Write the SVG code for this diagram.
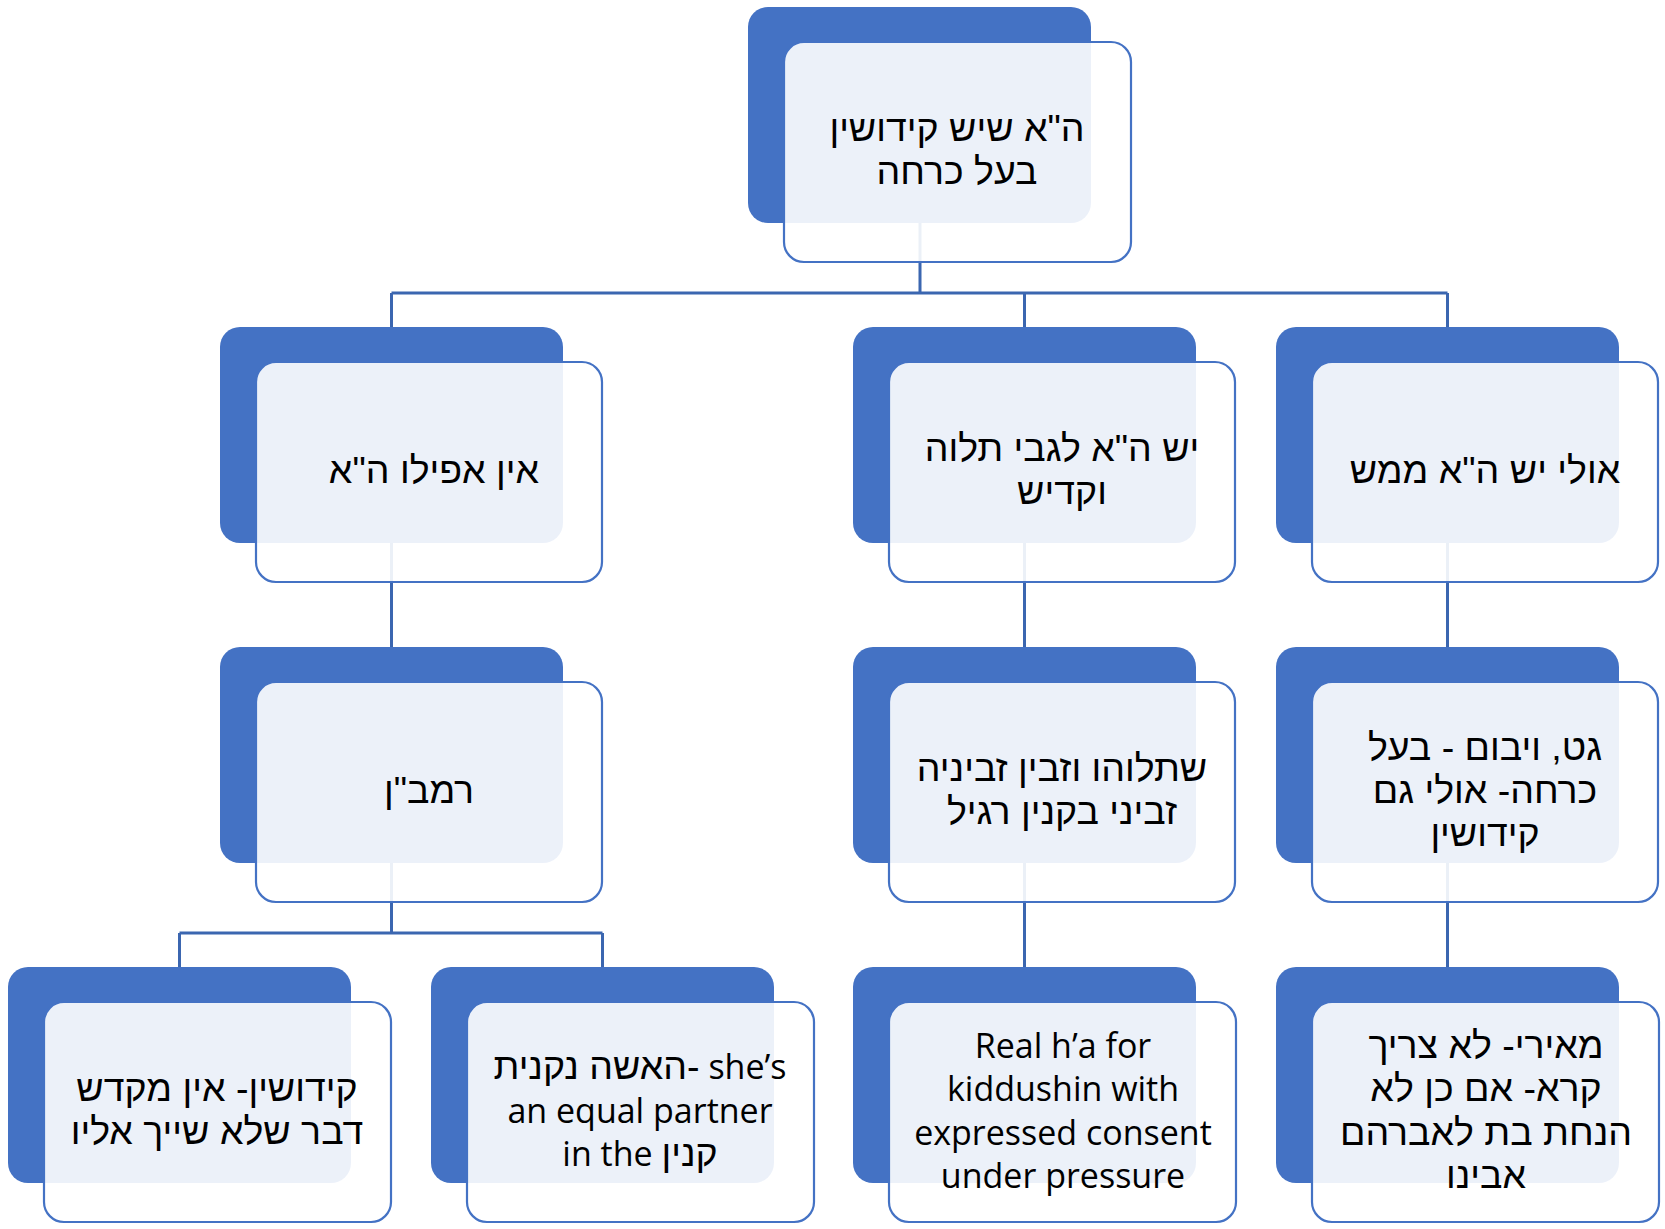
<svg xmlns="http://www.w3.org/2000/svg" width="1665" height="1229" viewBox="0 0 1665 1229">
<defs>
<style>
.back{fill:#4472C4;}
.front{fill:#FFFFFF;fill-opacity:0.9;stroke:#4472C4;stroke-width:2.2;}
.conn{fill:none;stroke:#3B66B0;stroke-width:3;}
.t{font-family:"Open Sans","Liberation Sans","DejaVu Sans",sans-serif;font-size:34px;fill:#000;text-anchor:middle;}
.h{font-family:"Liberation Sans","DejaVu Sans",sans-serif;font-size:37.5px;}
</style>
</defs>
<rect width="1665" height="1229" fill="#FFFFFF"/>
<g id="connectors">
<path class="conn" d="M920 223 V293 M391.5 293 H1447.5 M391.5 293 V327 M1024.5 293 V327 M1447.5 293 V327"/>
<path class="conn" d="M391.5 543 V647 M1024.5 543 V647 M1447.5 543 V647"/>
<path class="conn" d="M391.5 863 V933 M179.5 933 H602.5 M179.5 933 V967 M602.5 933 V967"/>
<path class="conn" d="M1024.5 863 V967 M1447.5 863 V967"/>
</g>
<g id="n0">
<rect class="back" x="748" y="7" width="343" height="216" rx="20"/>
<rect class="front" x="784" y="42" width="347" height="220" rx="20"/>
<text class="t h" direction="rtl" x="957" y="141">ה"א שיש קידושין</text>
<text class="t h" direction="rtl" x="957" y="184">בעל כרחה</text>
</g>
<g id="n1">
<rect class="back" x="220" y="327" width="343" height="216" rx="20"/>
<rect class="front" x="256" y="362" width="346" height="220" rx="20"/>
<text class="t h" direction="rtl" x="434" y="483">אין אפילו ה"א</text>
</g>
<g id="n2">
<rect class="back" x="853" y="327" width="343" height="216" rx="20"/>
<rect class="front" x="889" y="362" width="346" height="220" rx="20"/>
<text class="t h" direction="rtl" x="1062" y="461">יש ה"א לגבי תלוה</text>
<text class="t h" direction="rtl" x="1062" y="504">וקדיש</text>
</g>
<g id="n3">
<rect class="back" x="1276" y="327" width="343" height="216" rx="20"/>
<rect class="front" x="1312" y="362" width="346" height="220" rx="20"/>
<text class="t h" direction="rtl" x="1485" y="483">אולי יש ה"א ממש</text>
</g>
<g id="n4">
<rect class="back" x="220" y="647" width="343" height="216" rx="20"/>
<rect class="front" x="256" y="682" width="346" height="220" rx="20"/>
<text class="t h" direction="rtl" x="429" y="803">רמב"ן</text>
</g>
<g id="n5">
<rect class="back" x="853" y="647" width="343" height="216" rx="20"/>
<rect class="front" x="889" y="682" width="346" height="220" rx="20"/>
<text class="t h" direction="rtl" x="1062" y="781">שתלוהו וזבין זביניה</text>
<text class="t h" direction="rtl" x="1062" y="824">זביני בקנין רגיל</text>
</g>
<g id="n6">
<rect class="back" x="1276" y="647" width="343" height="216" rx="20"/>
<rect class="front" x="1312" y="682" width="346" height="220" rx="20"/>
<text class="t h" direction="rtl" x="1485" y="760">גט, ויבום - בעל</text>
<text class="t h" direction="rtl" x="1485" y="803">כרחה- אולי גם</text>
<text class="t h" direction="rtl" x="1485" y="846">קידושין</text>
</g>
<g id="n7">
<rect class="back" x="8" y="967" width="343" height="216" rx="20"/>
<rect class="front" x="44" y="1002" width="347" height="220" rx="20"/>
<text class="t h" direction="rtl" x="217" y="1101">קידושין- אין מקדש</text>
<text class="t h" direction="rtl" x="217" y="1144">דבר שלא שייך אליו</text>
</g>
<g id="n8">
<rect class="back" x="431" y="967" width="343" height="216" rx="20"/>
<rect class="front" x="467" y="1002" width="347" height="220" rx="20"/>
<text class="t" x="640" y="1079"><tspan class="h">האשה נקנית-</tspan> she’s</text>
<text class="t" x="640" y="1123">an equal partner</text>
<text class="t" x="640" y="1166">in the <tspan class="h">קנין</tspan></text>
</g>
<g id="n9">
<rect class="back" x="853" y="967" width="343" height="216" rx="20"/>
<rect class="front" x="889" y="1002" width="347" height="220" rx="20"/>
<text class="t" x="1063" y="1058">Real h’a for</text>
<text class="t" x="1063" y="1101">kiddushin with</text>
<text class="t" x="1063" y="1145">expressed consent</text>
<text class="t" x="1063" y="1188">under pressure</text>
</g>
<g id="n10">
<rect class="back" x="1276" y="967" width="343" height="216" rx="20"/>
<rect class="front" x="1312" y="1002" width="347" height="220" rx="20"/>
<text class="t h" direction="rtl" x="1486" y="1058">מאירי- לא צריך</text>
<text class="t h" direction="rtl" x="1486" y="1101">קרא- אם כן לא</text>
<text class="t h" direction="rtl" x="1486" y="1145">הנחת בת לאברהם</text>
<text class="t h" direction="rtl" x="1486" y="1188">אבינו</text>
</g>
</svg>
